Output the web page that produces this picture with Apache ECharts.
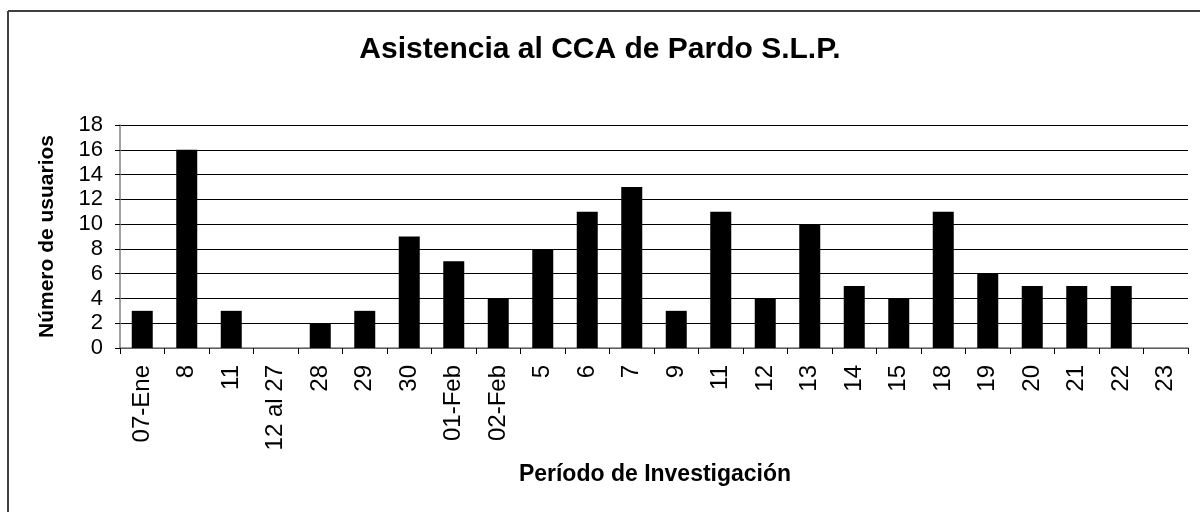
<!DOCTYPE html>
<html><head><meta charset="utf-8">
<script src="https://cdn.jsdelivr.net/npm/echarts@6/dist/echarts.min.js"></script>
<style>html,body{margin:0;padding:0;background:#fff}#c{width:1200px;height:512px}</style>
</head><body><div id="c"></div>
<script>
const categories = ['07-Ene','8','11','12 al 27','28','29','30','01-Feb','02-Feb','5','6','7','9','11','12','13','14','15','18','19','20','21','22','23'];
const usuarios = [3,16,3,0,2,3,9,7,4,8,11,13,3,11,4,10,5,4,11,6,5,5,5,0];
const yTicks = { min: 0, max: 18, interval: 2 };
const titleText = 'Asistencia al CCA de Pardo S.L.P.';
const xName = 'Período de Investigación';
const yName = 'Número de usuarios';

const chart = echarts.init(document.getElementById('c'), null, {renderer:'canvas'});
const F = 'Liberation Sans, Arial, sans-serif';
chart.setOption({
  animation: false,
  backgroundColor: '#fff',
  title: { text: titleText, left: 'center', top: 30, textStyle: { fontFamily: F, fontSize: 30, fontWeight: 'bold', color: '#000' } },
  graphic: [
    { type: 'line', shape: { x1: 8, y1: 11, x2: 1200, y2: 11 }, style: { stroke: '#404040', lineWidth: 2 } },
    { type: 'line', shape: { x1: 8, y1: 11, x2: 8, y2: 512 }, style: { stroke: '#404040', lineWidth: 2 } },
    { type: 'text', x: 655, y: 475, style: { text: xName, font: 'bold 23px ' + F, fill: '#000', textAlign: 'center', textVerticalAlign: 'middle' } }
  ],
  grid: { left: 120, right: 12, top: 125, bottom: 164, containLabel: false },
  xAxis: {
    type: 'category', data: categories,
    axisLine: { lineStyle: { color: '#808080', width: 1.5 } },
    axisTick: { show: true, alignWithLabel: false, length: 6, lineStyle: { color: '#000' } },
    axisLabel: { rotate: 90, interval: 0, margin: 17, fontFamily: F, fontSize: 24, color: '#000' },
    splitLine: { show: false }
  },
  yAxis: {
    type: 'value', min: yTicks.min, max: yTicks.max, interval: yTicks.interval,
    name: yName, nameLocation: 'middle', nameGap: 62, nameRotate: 90,
    nameTextStyle: { fontFamily: F, fontSize: 21, fontWeight: 'bold', color: '#000' },
    axisLine: { show: true, lineStyle: { color: '#808080', width: 1.5 } },
    axisTick: { show: true, length: 5, lineStyle: { color: '#000' } },
    axisLabel: { margin: 17, fontFamily: F, fontSize: 22, color: '#000' },
    splitLine: { show: true, lineStyle: { color: '#000', width: 1 } }
  },
  series: [{
    type: 'bar', data: usuarios, barWidth: 21,
    itemStyle: { color: '#000' }
  }]
});
</script></body></html>
